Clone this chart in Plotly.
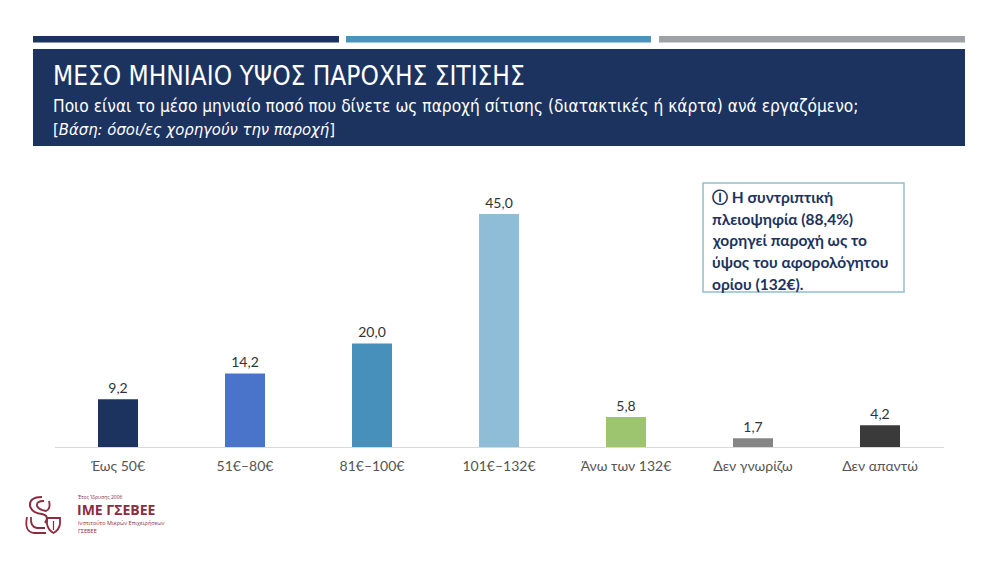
import plotly.graph_objects as go

categories = ["Έως 50€", "51€–80€", "81€–100€", "101€–132€", "Άνω των 132€", "Δεν γνωρίζω", "Δεν απαντώ"]
values = [9.2, 14.2, 20.0, 45.0, 5.8, 1.7, 4.2]
bar_colors = ["#1c3360", "#4a74c9", "#4690bb", "#8fbcd6", "#9dc46e", "#858585", "#3a3a3a"]
value_labels = [f"{v:.1f}".replace(".", ",") for v in values]

title = "ΜΕΣΟ ΜΗΝΙΑΙΟ ΥΨΟΣ ΠΑΡΟΧΗΣ ΣΙΤΙΣΗΣ"
subtitle = "Ποιο είναι το μέσο μηνιαίο ποσό που δίνετε ως παροχή σίτισης (διατακτικές ή κάρτα) ανά εργαζόμενο;"
base_note = "[<i>Βάση: όσοι/ες χορηγούν την παροχή</i>]"
callout_lines = ["Ⓘ Η συντριπτική", "πλειοψηφία (88,4%)", "χορηγεί παροχή ως το",
                 "ύψος του αφορολόγητου", "ορίου (132€)."]

W, H = 1000, 561
NAVY = "#1c3360"
MAROON = "#8a2d40"
HEAD_FONT = "Liberation Sans Narrow, DejaVu Sans Condensed, sans-serif"
BODY_FONT = "Lato, Open Sans, sans-serif"


def px(x):
    return x / W


def py(y):
    return 1 - y / H


fig = go.Figure(
    go.Bar(
        x=categories,
        y=values,
        marker=dict(color=bar_colors, line=dict(width=0)),
        text=value_labels,
        textposition="outside",
        textfont=dict(family=BODY_FONT, size=14, color="#333333"),
        cliponaxis=False,
        width=0.315,
    )
)

fig.update_layout(
    width=W,
    height=H,
    margin=dict(l=0, r=0, t=0, b=0),
    plot_bgcolor="white",
    paper_bgcolor="white",
    showlegend=False,
    xaxis=dict(
        domain=[px(54.5), px(943.5)],
        showgrid=False,
        showline=True,
        linecolor="#d9d9d9",
        linewidth=1,
        ticks="",
        ticklabelstandoff=6,
        tickfont=dict(family=BODY_FONT, size=14, color="#555555"),
        fixedrange=True,
    ),
    yaxis=dict(
        domain=[py(447), py(188)],
        range=[0, 50],
        visible=False,
        fixedrange=True,
    ),
)

shapes = [
    # top stripes
    dict(type="rect", xref="paper", yref="paper", x0=px(33), x1=px(339), y0=py(42.5), y1=py(36),
         fillcolor=NAVY, line_width=0, layer="below"),
    dict(type="rect", xref="paper", yref="paper", x0=px(346), x1=px(651), y0=py(42.5), y1=py(36),
         fillcolor="#4a94bb", line_width=0, layer="below"),
    dict(type="rect", xref="paper", yref="paper", x0=px(659), x1=px(965), y0=py(42.5), y1=py(36),
         fillcolor="#9ea2a6", line_width=0, layer="below"),
    # header block
    dict(type="rect", xref="paper", yref="paper", x0=px(33), x1=px(965), y0=py(146), y1=py(49),
         fillcolor=NAVY, line_width=0, layer="below"),
    # callout box
    dict(type="rect", xref="paper", yref="paper", x0=px(703), x1=px(904), y0=py(292), y1=py(183),
         fillcolor="white", line=dict(color="#93bfc9", width=1.5), layer="below"),
    # logo: shield
    dict(type="path", xref="paper", yref="paper",
         path=(f"M {px(47)},{py(518)} L {px(60)},{py(518)} L {px(60)},{py(524)} "
               f"Q {px(59)},{py(530)} {px(53.5)},{py(533)} Q {px(48)},{py(530)} {px(47)},{py(524)} Z"),
         line=dict(color=MAROON, width=1.8), fillcolor="rgba(0,0,0,0)"),
    dict(type="path", xref="paper", yref="paper",
         path=f"M {px(53.5)},{py(521)} L {px(53.5)},{py(530)}",
         line=dict(color=MAROON, width=1.2)),
    # logo: lion-like curves
    dict(type="path", xref="paper", yref="paper",
         path=(f"M {px(42)},{py(497)} Q {px(29)},{py(497)} {px(30)},{py(506)} "
               f"Q {px(32)},{py(513)} {px(42)},{py(514)} Q {px(50)},{py(516)} {px(45)},{py(523)}"),
         line=dict(color=MAROON, width=2)),
    dict(type="path", xref="paper", yref="paper",
         path=(f"M {px(44)},{py(501)} Q {px(36)},{py(501)} {px(37)},{py(506)} "
               f"Q {px(39)},{py(510)} {px(46)},{py(511)} Q {px(51)},{py(509)} {px(49)},{py(501)}"),
         line=dict(color=MAROON, width=1.8)),
    dict(type="path", xref="paper", yref="paper",
         path=(f"M {px(27)},{py(517)} Q {px(24)},{py(532)} {px(34)},{py(533)} "
               f"L {px(46)},{py(533)} M {px(31)},{py(517)} Q {px(30)},{py(527)} {px(37)},{py(528)} "
               f"L {px(45)},{py(528)}"),
         line=dict(color=MAROON, width=1.8)),
]
fig.update_layout(shapes=shapes)

annotations = [
    dict(text=title, x=px(51), y=py(76), xanchor="left", yanchor="middle",
         font=dict(family=HEAD_FONT, size=26, color="white")),
    dict(text=subtitle, x=px(51), y=py(106), xanchor="left", yanchor="middle",
         font=dict(family=HEAD_FONT, size=17.2, color="white")),
    dict(text=base_note, x=px(51), y=py(130), xanchor="left", yanchor="middle",
         font=dict(family=HEAD_FONT, size=16.5, color="white")),
    # logo texts
    dict(text="Έτος Ίδρυσης 2006", x=px(76), y=py(497), xanchor="left", yanchor="middle",
         font=dict(family="Open Sans, sans-serif", size=5, color=MAROON)),
    dict(text="<b>ΙΜΕ ΓΣΕΒΕΕ</b>", x=px(75), y=py(509), xanchor="left", yanchor="middle",
         font=dict(family="Open Sans, sans-serif", size=14, color=MAROON)),
    dict(text="Ινστιτούτο Μικρών Επιχειρήσεων", x=px(76), y=py(523), xanchor="left", yanchor="middle",
         font=dict(family="Open Sans, sans-serif", size=5.5, color=MAROON)),
    dict(text="ΓΣΕΒΕΕ", x=px(76), y=py(531), xanchor="left", yanchor="middle",
         font=dict(family="Open Sans, sans-serif", size=5.5, color=MAROON)),
]
for i, line in enumerate(callout_lines):
    annotations.append(
        dict(text=f"<b>{line}</b>", x=px(710), y=py(197 + 21.7 * i), xanchor="left", yanchor="middle",
             font=dict(family=BODY_FONT, size=15.5, color=NAVY))
    )
for a in annotations:
    a.update(xref="paper", yref="paper", showarrow=False)
fig.update_layout(annotations=annotations)

fig.write_html("out.html", config={"displayModeBar": False},
               post_script="document.body.style.margin='0';")
